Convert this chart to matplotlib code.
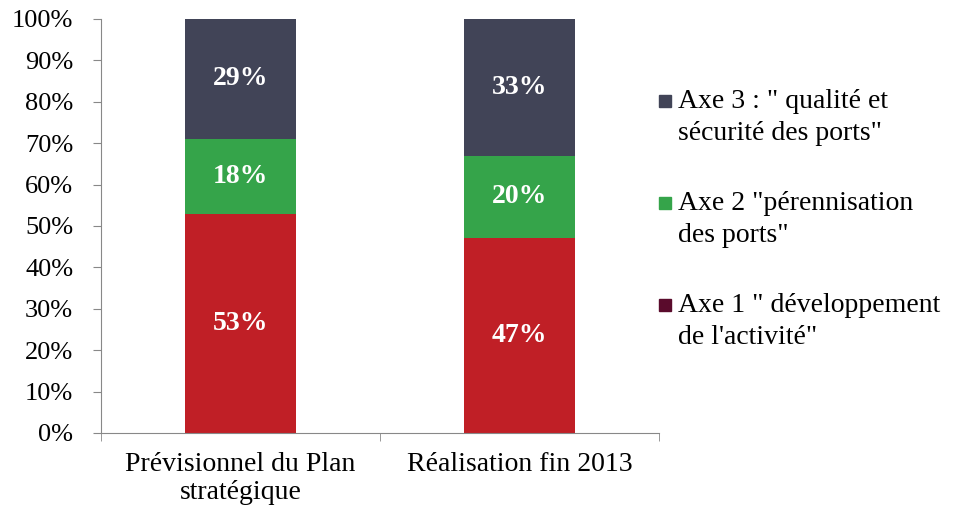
import matplotlib.pyplot as plt
from matplotlib.patches import Rectangle
import numpy as np

# Data
categories = ["Prévisionnel du Plan\nstratégique", "Réalisation fin 2013"]
axe1 = [53, 47]
axe2 = [18, 20]
axe3 = [29, 33]
legend_labels = ['Axe 3 : " qualité et\nsécurité des ports"',
                 'Axe 2 "pérennisation\ndes ports"',
                 'Axe 1 " développement\nde l\'activité"']

plt.rcParams["font.family"] = ["Liberation Serif", "DejaVu Serif"]

col_red = "#c01f26"
col_green = "#35a44a"
col_navy = "#414457"
col_maroon = "#5a0b2c"

W, H = 956, 512
fig = plt.figure(figsize=(W / 100, H / 100), dpi=100)
ax = fig.add_axes([0.1057, 0.1543, 0.5835, 0.8087])

x = np.arange(len(categories))
w = 0.4
b1 = ax.bar(x, axe1, w, color=col_red)
b2 = ax.bar(x, axe2, w, bottom=axe1, color=col_green)
bottom3 = np.array(axe1) + np.array(axe2)
b3 = ax.bar(x, axe3, w, bottom=bottom3, color=col_navy)

for bars, vals, base in [(b1, axe1, [0, 0]), (b2, axe2, axe1), (b3, axe3, bottom3)]:
    for rect, v, bs in zip(bars, vals, base):
        ax.text(rect.get_x() + rect.get_width() / 2, bs + v / 2, f"{v}%",
                ha="center", va="center", color="white", fontsize=20, fontweight="bold")

ax.set_xlim(-0.5, 1.5)
ax.set_ylim(0, 100)
ax.set_yticks(range(0, 101, 10))
ax.set_yticklabels([f"{t}%" for t in range(0, 101, 10)], fontsize=19)
ax.set_xticks(x)
ax.set_xticklabels(categories, fontsize=20, linespacing=1.15)
ax.set_xticks([-0.5, 0.5, 1.5], minor=True)
ax.tick_params(axis="x", which="major", length=0, pad=14)
ax.tick_params(axis="x", which="minor", length=6, color="#888888")
ax.tick_params(axis="y", length=6, color="#888888", pad=14)
for s in ["top", "right"]:
    ax.spines[s].set_visible(False)
for s in ["left", "bottom"]:
    ax.spines[s].set_color("#888888")

# legend drawn by hand: marker sits on the first line of each entry
leg_colors = [col_navy, col_green, col_maroon]
baselines = [108, 210, 312]  # first-line baselines, pixel rows from top
line_gap = 32
for lab, c, yb in zip(legend_labels, leg_colors, baselines):
    fig.patches.append(Rectangle((659 / W, 1 - (yb - 1) / H), 12 / W, 12 / H,
                                 transform=fig.transFigure, color=c))
    # va="baseline" anchors the last line, so shift down by one line
    fig.text(678 / W, 1 - (yb + line_gap) / H, lab, ha="left", va="baseline",
             fontsize=20, linespacing=1.35)

fig.savefig("out.png", dpi=100)
